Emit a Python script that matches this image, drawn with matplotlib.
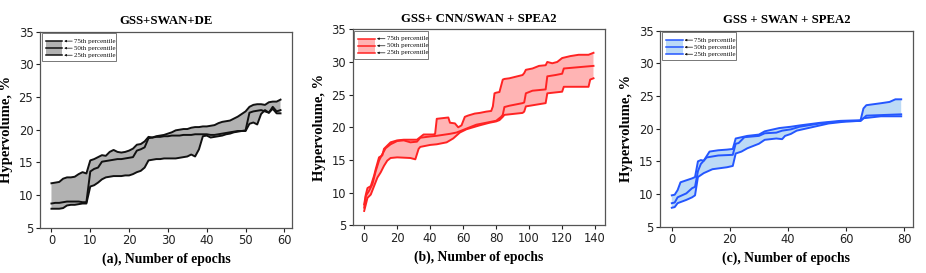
import matplotlib
matplotlib.use("Agg")
import matplotlib.pyplot as plt
import numpy as np
from matplotlib.patches import Rectangle

# ---------------- data ----------------
titles = ["GSS+SWAN+DE", "GSS+ CNN/SWAN + SPEA2", "GSS + SWAN + SPEA2"]
xlabels = ["(a), Number of epochs", "(b), Number of epochs", "(c), Number of epochs"]
ylabel = "Hypervolume, %"
legend_labels = ["75th percentile", "50th percentile", "25th percentile"]

# Panel (a): GSS+SWAN+DE  (epochs 0..59)
a_x = list(range(60))
a_p75 = [11.8, 11.9, 12.0, 12.5, 12.7, 12.7, 12.8, 13.2, 13.5, 13.3,
         15.3, 15.5, 15.8, 16.1, 16.0, 16.6, 16.9, 16.6, 16.5, 16.6,
         16.8, 17.1, 17.7, 17.8, 18.2, 18.9, 18.8, 19.0, 19.1, 19.2,
         19.4, 19.6, 19.9, 20.0, 20.1, 20.1, 20.3, 20.4, 20.4, 20.5,
         20.5, 20.6, 20.7, 21.0, 21.2, 21.3, 21.4, 21.7, 22.0, 22.4,
         22.8, 23.5, 23.8, 23.9, 23.9, 23.8, 24.2, 24.3, 24.3, 24.6]
a_p50 = [8.7, 8.8, 8.8, 8.9, 9.0, 9.0, 9.0, 9.0, 8.9, 8.9,
         13.6, 14.0, 14.2, 15.1, 15.2, 15.3, 15.4, 15.5, 15.5, 15.6,
         15.7, 15.8, 16.8, 17.0, 17.3, 18.7, 18.8, 18.9, 18.9, 19.0,
         19.0, 19.1, 19.1, 19.1, 19.2, 19.2, 19.2, 19.3, 19.3, 19.3,
         19.3, 19.2, 19.2, 19.3, 19.4, 19.5, 19.6, 19.7, 19.8, 19.8,
         19.9, 22.6, 22.8, 22.9, 23.0, 22.8, 22.6, 23.5, 22.8, 23.0]
a_p25 = [7.9, 7.9, 7.9, 8.0, 8.4, 8.5, 8.5, 8.6, 8.7, 8.7,
         11.3, 11.5, 11.9, 12.4, 12.7, 12.8, 12.9, 12.9, 12.9, 13.0,
         13.0, 13.2, 13.5, 13.7, 14.2, 15.3, 15.4, 15.5, 15.5, 15.6,
         15.6, 15.6, 15.6, 15.7, 15.8, 15.9, 16.2, 15.9, 17.0, 19.0,
         19.1, 18.8, 18.9, 19.0, 19.1, 19.3, 19.4, 19.6, 19.7, 19.8,
         19.8, 20.9, 21.1, 20.8, 22.4, 23.0, 22.6, 23.2, 22.5, 22.5]

# Panel (b): GSS+ CNN/SWAN + SPEA2  (epochs 0..139)
b_x75 = [0, 1, 2, 4, 6, 7, 9, 11, 12, 14, 16, 20, 24, 32, 34, 36, 42, 43, 44, 51,
         52, 55, 57, 59, 61, 63, 67, 70, 74, 77, 78, 79, 80, 82, 84, 85, 88, 92, 96, 97,
         98, 102, 106, 110, 111, 114, 117, 120, 125, 130, 136, 138, 139]
b_p75 = [8.2, 9.7, 10.7, 11.0, 12.6, 13.6, 15.4, 15.7, 16.7, 17.2, 17.7, 18.0, 18.1, 18.1, 18.5, 18.9, 18.9, 19.0, 21.3, 21.5,
         20.7, 20.6, 20.0, 20.3, 21.6, 21.8, 22.1, 22.2, 22.4, 22.5, 23.2, 25.2, 25.3, 25.4, 27.3, 27.4, 27.5, 27.75, 28.0, 28.3,
         28.8, 29.0, 29.4, 29.5, 30.0, 29.8, 30.0, 30.6, 30.9, 31.1, 31.1, 31.3, 31.4]
b_x50 = [0, 1, 3, 5, 7, 9, 11, 13, 16, 20, 24, 28, 32, 34, 40, 44, 52, 56, 60, 64,
         68, 72, 76, 80, 83, 84, 85, 88, 92, 96, 97, 98, 102, 106, 110, 111, 116, 120, 121, 130, 139]
b_p50 = [7.7, 9.5, 10.3, 11.3, 13.3, 14.9, 15.9, 16.8, 17.4, 17.9, 18.0, 17.7, 17.8, 18.4, 18.6, 18.7, 19.0, 19.2, 19.6, 20.0,
         20.4, 20.6, 20.8, 21.0, 21.6, 21.9, 23.1, 23.3, 23.5, 23.7, 23.8, 25.2, 25.6, 25.7, 25.8, 27.8, 28.0, 28.2, 29.0, 29.2, 29.4]
b_x25 = [0, 2, 4, 6, 8, 10, 12, 14, 16, 20, 28, 31, 33, 34, 40, 44, 50, 54, 58, 62,
         66, 70, 76, 80, 82, 84, 85, 96, 97, 98, 110, 111, 120, 121, 136, 137, 139]
b_p25 = [7.2, 9.2, 9.7, 11.0, 12.3, 13.1, 14.1, 14.9, 15.3, 15.4, 15.3, 15.1, 16.7, 17.0, 17.3, 17.4, 17.7, 18.3, 19.2, 19.7,
         20.0, 20.3, 20.7, 20.9, 21.1, 21.6, 21.9, 22.2, 22.4, 23.2, 23.7, 25.2, 25.45, 26.2, 26.2, 27.3, 27.5]

# Panel (c): GSS + SWAN + SPEA2  (epochs 0..79)
c_x75 = [0, 1, 2, 3, 5, 7, 8, 9, 10, 11, 13, 16, 19, 21, 22, 24, 26, 30, 32, 35,
         37, 41, 44, 51, 58, 65, 66, 67, 72, 75, 77, 79]
c_p75 = [9.8, 9.9, 10.6, 11.8, 12.1, 12.4, 12.6, 15.0, 15.2, 15.1, 16.5, 16.7, 16.8, 16.9, 18.5, 18.7, 18.9, 19.1, 19.6, 19.9,
         20.1, 20.3, 20.5, 20.9, 21.2, 21.3, 23.1, 23.6, 23.9, 24.1, 24.5, 24.5]
c_x50 = [0, 1, 2, 5, 7, 8, 9, 10, 12, 16, 21, 22, 23, 25, 30, 32, 36, 38, 41, 44,
         51, 58, 65, 66, 67, 79]
c_p50 = [8.6, 8.7, 9.5, 10.1, 10.9, 11.1, 13.5, 14.6, 15.6, 15.9, 16.0, 17.7, 17.8, 18.7, 18.9, 19.3, 19.4, 19.7, 19.9, 20.3,
         20.8, 21.1, 21.2, 21.6, 22.0, 22.2]
c_x25 = [0, 1, 2, 5, 7, 8, 9, 11, 14, 19, 21, 22, 24, 26, 30, 32, 36, 38, 39, 41,
         43, 48, 54, 60, 65, 66, 72, 79]
c_p25 = [7.9, 8.0, 8.6, 9.1, 9.5, 9.8, 12.6, 13.2, 13.8, 14.1, 14.3, 16.2, 16.5, 17.0, 17.7, 18.3, 18.5, 18.4, 18.9, 19.2,
         19.7, 20.2, 20.8, 21.1, 21.2, 21.6, 21.9, 21.9]

x_ticks = [[0, 10, 20, 30, 40, 50, 60], [0, 20, 40, 60, 80, 100, 120, 140], [0, 20, 40, 60, 80]]
y_ticks = [5, 10, 15, 20, 25, 30, 35]

panels = [
    (a_x, a_p75, a_x, a_p50, a_x, a_p25),
    (b_x75, b_p75, b_x50, b_p50, b_x25, b_p25),
    (c_x75, c_p75, c_x50, c_p50, c_x25, c_p25),
]
line_colors = ["#111111", "#ff2323", "#2456ff"]
fill_colors = ["#b2b2b2", "#ffb4b4", "#bcdaf6"]

axes_rects = [
    [0.0432, 0.166, 0.2721, 0.7179],
    [0.3809, 0.1747, 0.2724, 0.7180],
    [0.7131, 0.1696, 0.2725, 0.7179],
]

serif = ["Liberation Serif", "DejaVu Serif"]

fig = plt.figure(figsize=(9.26, 2.73), dpi=100)

for i, rect in enumerate(axes_rects):
    ax = fig.add_axes(rect)
    x75, p75, x50, p50, x25, p25 = panels[i]
    lc, fc = line_colors[i], fill_colors[i]
    poly_x = np.concatenate([np.asarray(x75, float), np.asarray(x25, float)[::-1]])
    poly_y = np.concatenate([np.asarray(p75, float), np.asarray(p25, float)[::-1]])
    ax.fill(poly_x, poly_y, color=fc, lw=0, zorder=1)
    for xs, ys in ((x75, p75), (x50, p50), (x25, p25)):
        ax.plot(xs, ys, color=lc, lw=1.4, zorder=2)

    ax.set_ylim(5, 35)
    ax.margins(x=0.05)
    ax.set_xticks(x_ticks[i])
    ax.set_yticks(y_ticks)
    ax.tick_params(labelsize=8.3, length=3, width=0.8, pad=1.8, colors="#222222")
    for sp in ax.spines.values():
        sp.set_color("#555555")
        sp.set_linewidth(0.9)

    ax.set_title(titles[i], fontsize=9.2, fontweight="bold", family=serif, pad=5.5)
    ax.set_xlabel(xlabels[i], fontsize=9.8, fontweight="bold", family=serif, labelpad=4)
    ax.set_ylabel(ylabel, fontsize=10.5, fontweight="bold", family=serif, labelpad=4)

    # custom legend drawn in axes coordinates
    tr = ax.transAxes
    ax.add_patch(Rectangle((0.006, 0.85), 0.294, 0.142, transform=tr,
                           facecolor="white", edgecolor="#777777", lw=0.7, zorder=5))
    ax.add_patch(Rectangle((0.022, 0.880), 0.066, 0.072, transform=tr,
                           facecolor=fc, edgecolor="none", zorder=6))
    for yy, lab in zip([0.952, 0.916, 0.880], legend_labels):
        ax.plot([0.022, 0.088], [yy, yy], color=lc, lw=1.1, transform=tr, zorder=7)
        ax.annotate("", xy=(0.096, yy), xytext=(0.128, yy), xycoords=tr, textcoords=tr,
                    arrowprops=dict(arrowstyle="-|>", lw=0.5, color="#111111",
                                    mutation_scale=3, shrinkA=0, shrinkB=0), zorder=7)
        ax.text(0.134, yy, lab, transform=tr, fontsize=5.0, family=serif,
                va="center", ha="left", color="#111111", zorder=7)

fig.savefig("out.png", dpi=100)
